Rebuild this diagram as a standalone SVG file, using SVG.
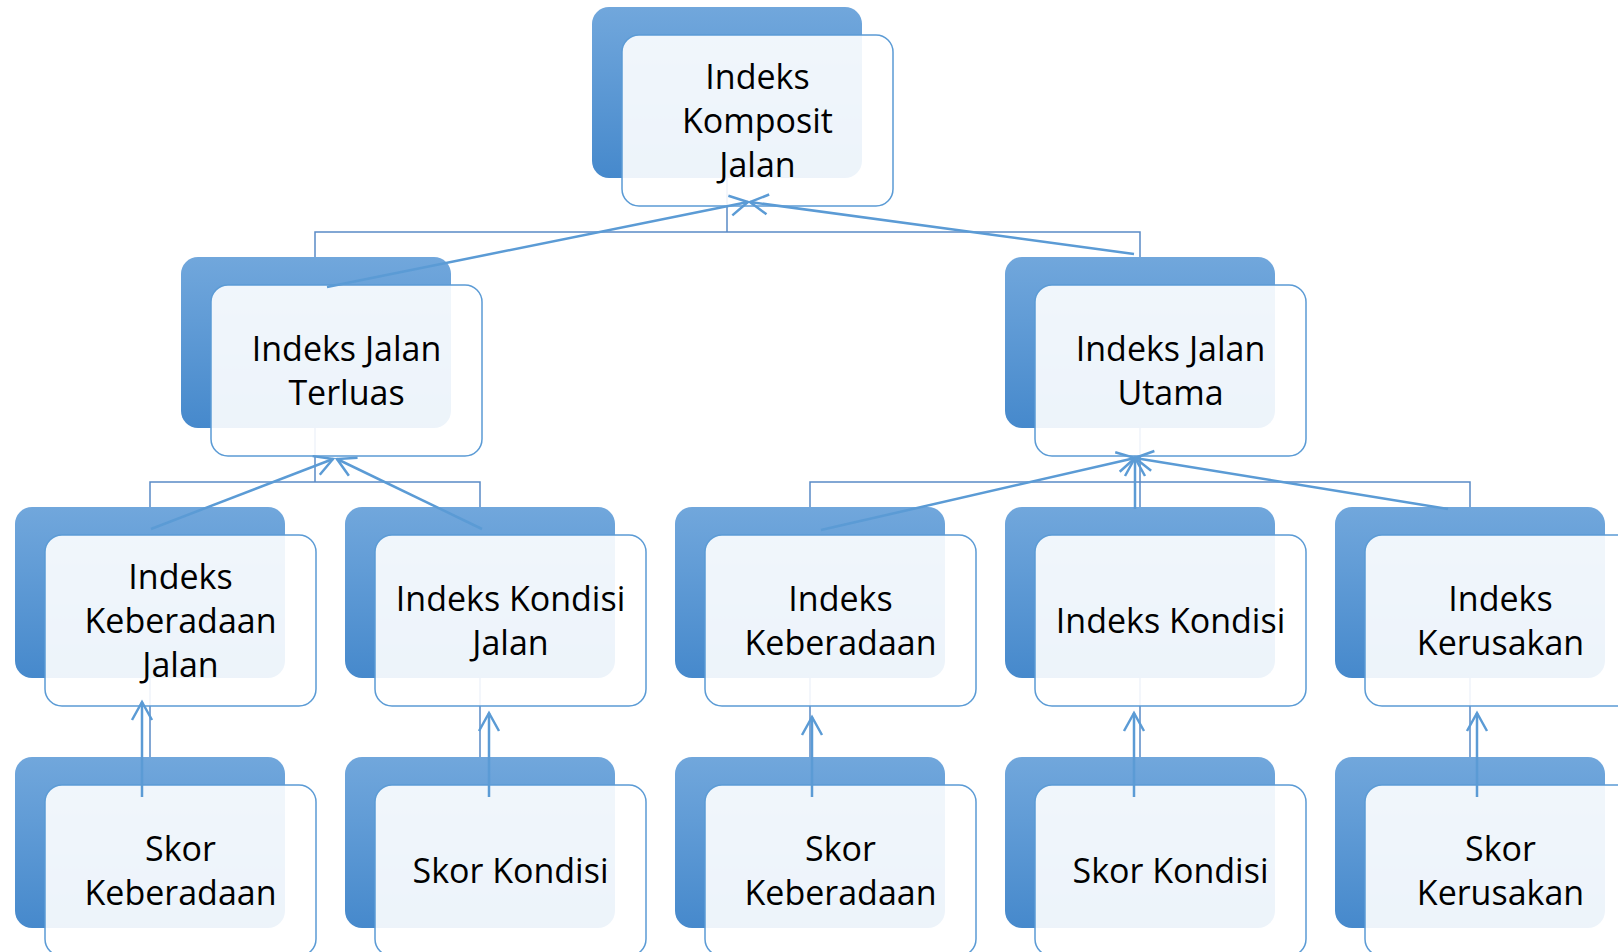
<svg xmlns="http://www.w3.org/2000/svg" width="1618" height="952" viewBox="0 0 1618 952">
<defs>
<linearGradient id="gDark" x1="0" y1="0" x2="0" y2="1">
<stop offset="0" stop-color="#71A7DC"/>
<stop offset="1" stop-color="#4689CC"/>
</linearGradient>
<marker id="arr" markerUnits="userSpaceOnUse" viewBox="-22 -12 24 24" markerWidth="24" markerHeight="24" refX="0" refY="0" orient="auto" overflow="visible">
<path d="M-18,-10 L0,0 L-18,10" fill="none" stroke="#5B9BD5" stroke-width="2.5"/>
</marker>
<style>
.dark{fill:url(#gDark);}
.light{fill:#ffffff;fill-opacity:0.9;stroke:#5B9BD5;stroke-width:1.5;}
.t{font-family:"Open Sans","Noto Sans",sans-serif;font-size:34px;fill:#000;text-anchor:middle;}
.elb{fill:none;stroke:#5A8AC6;stroke-width:1.5;}
.arw{fill:none;stroke:#5B9BD5;stroke-width:2.5;marker-end:url(#arr);}
</style>
</defs>
<rect width="1618" height="952" fill="#ffffff"/>
<g id="dark-layer">
<rect class="dark" x="592" y="7" width="270" height="171" rx="17"/>
<rect class="dark" x="181" y="257" width="270" height="171" rx="17"/>
<rect class="dark" x="1005" y="257" width="270" height="171" rx="17"/>
<rect class="dark" x="15" y="507" width="270" height="171" rx="17"/>
<rect class="dark" x="345" y="507" width="270" height="171" rx="17"/>
<rect class="dark" x="675" y="507" width="270" height="171" rx="17"/>
<rect class="dark" x="1005" y="507" width="270" height="171" rx="17"/>
<rect class="dark" x="1335" y="507" width="270" height="171" rx="17"/>
<rect class="dark" x="15" y="757" width="270" height="171" rx="17"/>
<rect class="dark" x="345" y="757" width="270" height="171" rx="17"/>
<rect class="dark" x="675" y="757" width="270" height="171" rx="17"/>
<rect class="dark" x="1005" y="757" width="270" height="171" rx="17"/>
<rect class="dark" x="1335" y="757" width="270" height="171" rx="17"/>
</g>
<g id="tree-connectors">
<path class="elb" d="M727 178 V232 M315 257 V232 H1140 V257"/>
<path class="elb" d="M315 428 V482 M150 507 V482 H480 V507"/>
<path class="elb" d="M1140 428 V507 M810 507 V482 H1470 V507"/>
<path class="elb" d="M150 678 V757 M480 678 V757 M810 678 V757 M1140 678 V757 M1470 678 V757"/>
</g>
<g id="node-komposit">
<rect class="light" x="622" y="35" width="271" height="171" rx="17"/>
<text class="t" x="757.5" y="88.5">Indeks</text>
<text class="t" x="757.5" y="132.5">Komposit</text>
<text class="t" x="757.5" y="176.5">Jalan</text>
</g>
<g id="node-terluas">
<rect class="light" x="211" y="285" width="271" height="171" rx="17"/>
<text class="t" x="346.5" y="360.5">Indeks Jalan</text>
<text class="t" x="346.5" y="404.5">Terluas</text>
</g>
<g id="node-utama">
<rect class="light" x="1035" y="285" width="271" height="171" rx="17"/>
<text class="t" x="1170.5" y="360.5">Indeks Jalan</text>
<text class="t" x="1170.5" y="404.5">Utama</text>
</g>
<g id="node-keberadaan-jalan">
<rect class="light" x="45" y="535" width="271" height="171" rx="17"/>
<text class="t" x="180.5" y="588.5">Indeks</text>
<text class="t" x="180.5" y="632.5">Keberadaan</text>
<text class="t" x="180.5" y="676.5">Jalan</text>
</g>
<g id="node-kondisi-jalan">
<rect class="light" x="375" y="535" width="271" height="171" rx="17"/>
<text class="t" x="510.5" y="610.5">Indeks Kondisi</text>
<text class="t" x="510.5" y="654.5">Jalan</text>
</g>
<g id="node-keberadaan">
<rect class="light" x="705" y="535" width="271" height="171" rx="17"/>
<text class="t" x="840.5" y="610.5">Indeks</text>
<text class="t" x="840.5" y="654.5">Keberadaan</text>
</g>
<g id="node-kondisi">
<rect class="light" x="1035" y="535" width="271" height="171" rx="17"/>
<text class="t" x="1170.5" y="632.5">Indeks Kondisi</text>
</g>
<g id="node-kerusakan">
<rect class="light" x="1365" y="535" width="271" height="171" rx="17"/>
<text class="t" x="1500.5" y="610.5">Indeks</text>
<text class="t" x="1500.5" y="654.5">Kerusakan</text>
</g>
<g id="node-skor-keberadaan-1">
<rect class="light" x="45" y="785" width="271" height="171" rx="17"/>
<text class="t" x="180.5" y="860.5">Skor</text>
<text class="t" x="180.5" y="904.5">Keberadaan</text>
</g>
<g id="node-skor-kondisi-1">
<rect class="light" x="375" y="785" width="271" height="171" rx="17"/>
<text class="t" x="510.5" y="882.5">Skor Kondisi</text>
</g>
<g id="node-skor-keberadaan-2">
<rect class="light" x="705" y="785" width="271" height="171" rx="17"/>
<text class="t" x="840.5" y="860.5">Skor</text>
<text class="t" x="840.5" y="904.5">Keberadaan</text>
</g>
<g id="node-skor-kondisi-2">
<rect class="light" x="1035" y="785" width="271" height="171" rx="17"/>
<text class="t" x="1170.5" y="882.5">Skor Kondisi</text>
</g>
<g id="node-skor-kerusakan">
<rect class="light" x="1365" y="785" width="271" height="171" rx="17"/>
<text class="t" x="1500.5" y="860.5">Skor</text>
<text class="t" x="1500.5" y="904.5">Kerusakan</text>
</g>
<g id="arrow-connectors">
<path class="arw" d="M327 287 L748 202"/>
<path class="arw" d="M1134 254 L750 202"/>
<path class="arw" d="M151 529 L333 459"/>
<path class="arw" d="M482 529 L337 459"/>
<path class="arw" d="M821 530 L1135 458"/>
<path class="arw" d="M1135 509 L1135 458"/>
<path class="arw" d="M1448 509 L1135 458"/>
<path class="arw" d="M142 797 L142 702"/>
<path class="arw" d="M489 797 L489 713"/>
<path class="arw" d="M812 797 L812 717"/>
<path class="arw" d="M1134 797 L1134 713"/>
<path class="arw" d="M1477 797 L1477 713"/>
</g>
</svg>
